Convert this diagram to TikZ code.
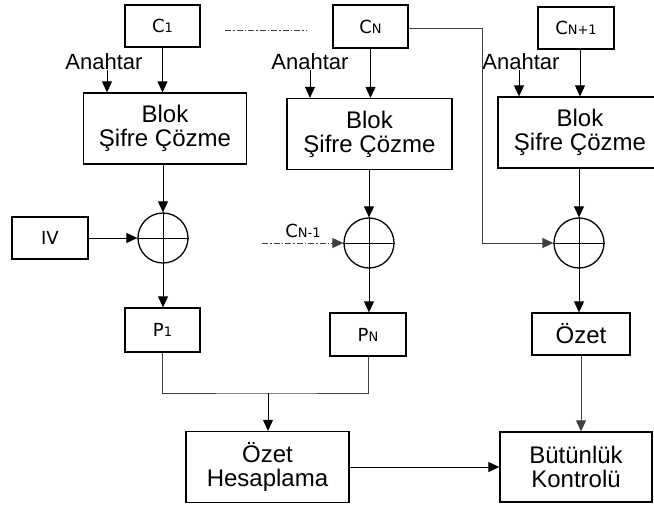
\documentclass[tikz,border=0pt]{standalone}
\usepackage{fontspec}
\setmainfont{Liberation Sans}
\newfontfamily\labelfont{DejaVu Sans}
\usetikzlibrary{arrows.meta}

% letter with a smaller index set on the same baseline (C1, CN, P1 ...)
\newcommand{\idxlabel}[2]{{\labelfont\fontsize{18}{20}\selectfont #1\fontsize{13}{14}\selectfont #2}}

\tikzset{
  box/.style={draw, line width=1.3pt, inner sep=0pt, align=center,
              font=\fontsize{24}{24}\selectfont},
  smallbox/.style={draw, line width=1.3pt, inner sep=0pt},
  xorcirc/.style={draw, circle, line width=1.3pt, minimum size=50pt, inner sep=0pt},
  keylabel/.style={inner sep=0pt, font=\fontsize{22}{22}\selectfont},
  flow/.style={line width=0.9pt, -{Triangle[length=11pt,width=10pt]}},
  wire/.style={line width=0.9pt, black!75},
  dashwire/.style={line width=0.9pt, black!75, dash pattern=on 6pt off 2pt on 1.5pt off 2pt},
}

\begin{document}
\begin{tikzpicture}[x=1pt, y=-1pt]
\useasboundingbox (0,0) rectangle (654,504);
\clip (0,0) rectangle (654,504);

% ciphertext blocks
\node[smallbox, minimum width=75pt, minimum height=42pt] (c1) at (162.5,26) {\idxlabel{C}{1}};
\node[smallbox, minimum width=75pt, minimum height=43pt] (cn) at (370.5,26.5) {\idxlabel{C}{N}};
\node[smallbox, minimum width=76pt, minimum height=42pt] (cn1) at (576,28) {\idxlabel{C}{N+1}};
\coordinate (dotsL) at (225,30);
\coordinate (dotsR) at (306,30);
\draw[dashwire] (dotsL) -- (dotsR);

% key labels
\node[keylabel] (k1) at (104,62) {Anahtar};
\node[keylabel] (k2) at (310,62) {Anahtar};
\node[keylabel] (k3) at (521,62) {Anahtar};

% block decryption
\node[box, minimum width=163pt, minimum height=71pt] (d1) at (165,128.5) {Blok\\Şifre Çözme};
\node[box, minimum width=165pt, minimum height=71pt] (d2) at (369.5,134) {Blok\\Şifre Çözme};
\node[box, minimum width=164pt, minimum height=71pt] (d3) at (580,132.5) {Blok\\Şifre Çözme};

% XOR stages
\node[xorcirc] (x1) at (163,238) {};
\node[xorcirc] (x2) at (369,243) {};
\node[xorcirc] (x3) at (579,243) {};
\foreach \x in {x1,x2,x3}{
  \draw[line width=0.9pt] (\x.north) -- (\x.south);
  \draw[line width=0.9pt] (\x.west) -- (\x.east);
}

\node[smallbox, minimum width=76pt, minimum height=42pt] (iv) at (50,238) {{\labelfont\fontsize{18}{20}\selectfont IV}};
\node[inner sep=0pt] (cprev) at (303,231) {\idxlabel{C}{N-1}};
\coordinate (cprevL) at (262,243);

% plaintext blocks and hash
\node[smallbox, minimum width=75pt, minimum height=44pt] (p1) at (162.5,330) {\idxlabel{P}{1}};
\node[smallbox, minimum width=76pt, minimum height=43pt] (pn) at (368,334.5) {\idxlabel{P}{N}};
\node[box, minimum width=98pt, minimum height=42pt] (oz) at (581,334) {Özet};

% final stage
\node[box, minimum width=163pt, minimum height=71pt] (oh) at (267.5,467) {Özet\\Hesaplama};
\node[box, minimum width=152pt, minimum height=70pt] (bk) at (576,467) {Bütünlük\\Kontrolü};

% key and ciphertext inputs
\draw[flow] ([xshift=3pt]k1.south) -- ([xshift=3pt]k1.south |- d1.north);
\draw[flow] (k2.south) -- (k2.south |- d2.north);
\draw[flow] ([xshift=-2pt]k3.south) -- ([xshift=-2pt]k3.south |- d3.north);
\draw[flow] (c1.south) -- (c1.south |- d1.north);
\draw[flow] (cn.south) -- (cn.south |- d2.north);
\draw[flow] ([xshift=4pt]cn1.south) -- ([xshift=4pt]cn1.south |- d3.north);

% decryption outputs into XOR
\draw[flow] (x1.north |- d1.south) -- (x1.north);
\draw[flow] (x2.north |- d2.south) -- (x2.north);
\draw[flow] (x3.north |- d3.south) -- (x3.north);

% chaining inputs
\draw[flow] (iv.east) -- (x1.west);
\draw[dashwire, -{Triangle[length=11pt,width=10pt]}] (cprevL) -- (x2.west);
\coordinate (cnTurn) at (482,28);
\draw[wire, -{Triangle[length=11pt,width=10pt]}] (cn.east |- cnTurn) -- (cnTurn) |- (x3.west);

% XOR outputs
\draw[flow] (x1.south) -- (x1.south |- p1.north);
\draw[flow] (x2.south) -- (x2.south |- pn.north);
\draw[flow] (x3.south) -- (x3.south |- oz.north);

% plaintext into hash computation
\coordinate (merge) at (268,393);
\draw[wire] (p1.south) |- (merge) -| (pn.south);
\draw[flow] (merge) -- (merge |- oh.north);

% integrity check
\draw[flow] (oh.east) -- (bk.west);
\draw[wire, -{Triangle[length=11pt,width=10pt]}] (oz.south) -- (oz.south |- bk.north);
\end{tikzpicture}
\end{document}
